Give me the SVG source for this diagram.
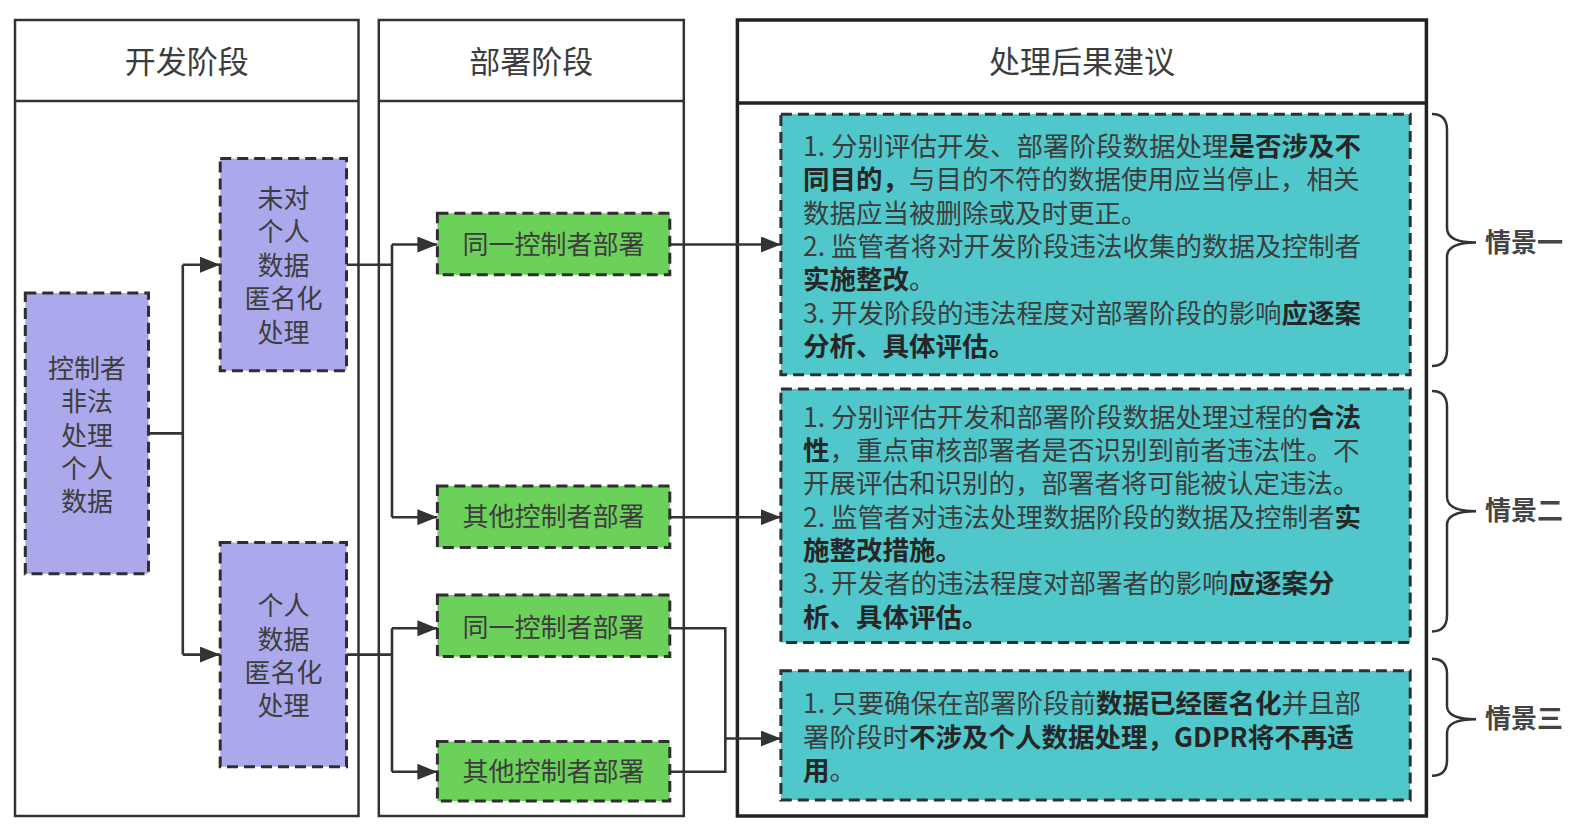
<svg xmlns="http://www.w3.org/2000/svg" width="1584" height="832" viewBox="0 0 1584 832">
<style>
text{font-family:"Noto Sans CJK SC","Noto Sans",sans-serif;fill:#3d3d3d}
.col{fill:#fff;stroke:#333;stroke-width:2.5}
.colr{fill:#fff;stroke:#222;stroke-width:3.5}
.hdr{font-size:31px;text-anchor:middle}
.node{stroke:#2f2f2f;stroke-width:3;stroke-dasharray:11 6}
.p{fill:#aba9ec}
.g{fill:#6cd15a}
.t{fill:#50c8cb}
.nt{font-size:26px;text-anchor:middle}
.tt{font-size:26.5px}
.b{font-weight:bold;fill:#262626}
.c{fill:none;stroke:#333;stroke-width:2.6}
.br{fill:none;stroke:#333;stroke-width:2.5}
.lbl{font-size:26px;font-weight:bold;fill:#444}
</style>
<defs>
<marker id="ah" viewBox="0 0 20 16" refX="20" refY="8" markerWidth="20" markerHeight="16" markerUnits="userSpaceOnUse" orient="auto">
<path d="M0,0 L20,8 L0,16 Z" fill="#333"/>
</marker>
</defs>
<rect width="1584" height="832" fill="#fff"/>
<g id="col-dev">
<rect class="col" x="15" y="20" width="343.5" height="796"/>
<line class="col" x1="15" y1="101" x2="358.5" y2="101"/>
<text class="hdr" x="186.7" y="73">开发阶段</text>
</g>
<g id="col-deploy">
<rect class="col" x="378.8" y="20" width="305" height="796"/>
<line class="col" x1="378.8" y1="101" x2="683.8" y2="101"/>
<text class="hdr" x="531.3" y="73">部署阶段</text>
</g>
<g id="col-advice">
<rect class="colr" x="737.4" y="20" width="689" height="796"/>
<line class="colr" x1="737.4" y1="103" x2="1426.4" y2="103"/>
<text class="hdr" x="1082" y="73">处理后果建议</text>
</g>
<g id="connectors">
<path class="c" d="M148.5,433.4 H182.8 M182.8,264.7 V654.6"/>
<path class="c" d="M182.8,264.7 H220" marker-end="url(#ah)"/>
<path class="c" d="M182.8,654.6 H220" marker-end="url(#ah)"/>
<path class="c" d="M346.5,264.7 H392 M392,244.5 V517.2"/>
<path class="c" d="M392,244.5 H437.4" marker-end="url(#ah)"/>
<path class="c" d="M392,517.2 H437.4" marker-end="url(#ah)"/>
<path class="c" d="M346.5,654.6 H392 M392,628.3 V771.8"/>
<path class="c" d="M392,628.3 H437.4" marker-end="url(#ah)"/>
<path class="c" d="M392,771.8 H437.4" marker-end="url(#ah)"/>
<path class="c" d="M669.8,244.5 H780.9" marker-end="url(#ah)"/>
<path class="c" d="M669.8,517.2 H780.9" marker-end="url(#ah)"/>
<path class="c" d="M669.8,628.3 H725.3 V771.8 H669.8"/>
<path class="c" d="M725.3,738.5 H780.9" marker-end="url(#ah)"/>
</g>
<g id="n-illegal">
<rect class="node p" x="25.3" y="293" width="123.2" height="280.8"/>
<text class="nt" x="86.9"><tspan x="86.9" y="377.8">控制者</tspan><tspan x="86.9" y="411.1">非法</tspan><tspan x="86.9" y="444.5">处理</tspan><tspan x="86.9" y="477.8">个人</tspan><tspan x="86.9" y="511.1">数据</tspan></text>
</g>
<g id="n-notanon">
<rect class="node p" x="220.2" y="158.6" width="126.3" height="212.1"/>
<text class="nt" x="283.4"><tspan x="283.4" y="208.1">未对</tspan><tspan x="283.4" y="241.4">个人</tspan><tspan x="283.4" y="274.8">数据</tspan><tspan x="283.4" y="308.1">匿名化</tspan><tspan x="283.4" y="341.5">处理</tspan></text>
</g>
<g id="n-anon">
<rect class="node p" x="220.2" y="542.5" width="126.3" height="224.2"/>
<text class="nt" x="283.4"><tspan x="283.4" y="615.2">个人</tspan><tspan x="283.4" y="648.6">数据</tspan><tspan x="283.4" y="681.9">匿名化</tspan><tspan x="283.4" y="715.2">处理</tspan></text>
</g>
<g id="n-same1">
<rect class="node g" x="437.4" y="213.2" width="232.4" height="61.6"/>
<text class="nt" x="553.6" y="253.6">同一控制者部署</text>
</g>
<g id="n-other1">
<rect class="node g" x="437.4" y="485.9" width="232.4" height="61.6"/>
<text class="nt" x="553.6" y="526.3">其他控制者部署</text>
</g>
<g id="n-same2">
<rect class="node g" x="437.4" y="595" width="232.4" height="61.6"/>
<text class="nt" x="553.6" y="637.4">同一控制者部署</text>
</g>
<g id="n-other2">
<rect class="node g" x="437.4" y="741.5" width="232.4" height="59.6"/>
<text class="nt" x="553.6" y="780.9">其他控制者部署</text>
</g>
<g id="s1">
<rect class="node t" x="780.9" y="114.2" width="629.3" height="260.6"/>
<text class="tt">
<tspan x="803" y="155.8">1. 分别评估开发、部署阶段数据处理<tspan class="b">是否涉及不</tspan></tspan>
<tspan x="803" y="189.1"><tspan class="b">同目的，</tspan>与目的不符的数据使用应当停止，相关</tspan>
<tspan x="803" y="222.5">数据应当被删除或及时更正。</tspan>
<tspan x="803" y="255.8">2. 监管者将对开发阶段违法收集的数据及控制者</tspan>
<tspan x="803" y="289.1"><tspan class="b">实施整改</tspan>。</tspan>
<tspan x="803" y="322.5">3. 开发阶段的违法程度对部署阶段的影响<tspan class="b">应逐案</tspan></tspan>
<tspan x="803" y="355.8" class="b">分析、具体评估。</tspan>
</text>
</g>
<g id="s2">
<rect class="node t" x="780.9" y="388.9" width="629.3" height="253.6"/>
<text class="tt">
<tspan x="803" y="426.5">1. 分别评估开发和部署阶段数据处理过程的<tspan class="b">合法</tspan></tspan>
<tspan x="803" y="459.8"><tspan class="b">性</tspan>，重点审核部署者是否识别到前者违法性。不</tspan>
<tspan x="803" y="493.2">开展评估和识别的，部署者将可能被认定违法。</tspan>
<tspan x="803" y="526.5">2. 监管者对违法处理数据阶段的数据及控制者<tspan class="b">实</tspan></tspan>
<tspan x="803" y="559.9" class="b">施整改措施。</tspan>
<tspan x="803" y="593.2">3. 开发者的违法程度对部署者的影响<tspan class="b">应逐案分</tspan></tspan>
<tspan x="803" y="626.5" class="b">析、具体评估。</tspan>
</text>
</g>
<g id="s3">
<rect class="node t" x="780.9" y="670.8" width="629.3" height="129.3"/>
<text class="tt">
<tspan x="803" y="713.4">1. 只要确保在部署阶段前<tspan class="b">数据已经匿名化</tspan>并且部</tspan>
<tspan x="803" y="746.7">署阶段时<tspan class="b">不涉及个人数据处理，GDPR将不再适</tspan></tspan>
<tspan x="803" y="780.1"><tspan class="b">用</tspan>。</tspan>
</text>
</g>
<g id="brace1">
<path class="br" d="M1432,114 Q1447,114 1447,130 L1447,228 Q1447,242.5 1476,242.5 Q1447,242.5 1447,257 L1447,350 Q1447,366 1432,366"/>
<text class="lbl" x="1485" y="251.5">情景一</text>
</g>
<g id="brace2">
<path class="br" d="M1432,391 Q1447,391 1447,407 L1447,497 Q1447,511.2 1476,511.2 Q1447,511.2 1447,525 L1447,615 Q1447,631.4 1432,631.4"/>
<text class="lbl" x="1485" y="520.2">情景二</text>
</g>
<g id="brace3">
<path class="br" d="M1432,658.7 Q1447,658.7 1447,674 L1447,706 Q1447,719.3 1476,719.3 Q1447,719.3 1447,733 L1447,760 Q1447,775.8 1432,775.8"/>
<text class="lbl" x="1485" y="728.3">情景三</text>
</g>
</svg>
